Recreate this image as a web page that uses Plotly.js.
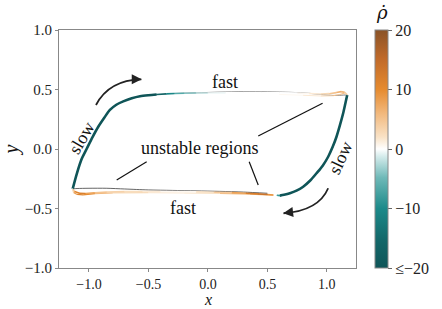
<!DOCTYPE html>
<html>
<head>
<meta charset="utf-8">
<script src="https://cdn.plot.ly/plotly-3.0.1.min.js"></script>
<style>html,body{margin:0;padding:0;background:#fff}</style>
</head>
<body>
<div id="chart" style="width:442px;height:309px"></div>
<script>
// ---- limit cycle in the (x, y) plane, coloured by d(rho)/dt ----

// slow branch on the left (rising)
const slowLeftX = [-1.137, -1.10, -1.06, -1.02, -0.97, -0.922, -0.87, -0.824, -0.77, -0.712, -0.64, -0.571, -0.50, -0.431];
const slowLeftY = [-0.335, -0.20, -0.08, 0.00, 0.10, 0.187, 0.265, 0.328, 0.372, 0.400, 0.426, 0.443, 0.452, 0.458];
const slowLeftRho = [-40, -40, -40, -40, -40, -40, -40, -40, -40, -40, -40, -40, -40, -40];

// slow branch on the right (falling)
const slowRightX = [1.171, 1.155, 1.137, 1.11, 1.081, 1.05, 1.011, 0.965, 0.913, 0.86, 0.801, 0.745, 0.689, 0.64, 0.605];
const slowRightY = [0.454, 0.38, 0.30, 0.20, 0.103, 0.02, -0.065, -0.14, -0.204, -0.265, -0.317, -0.35, -0.372, -0.385, -0.392];
const slowRightRho = [-40, -40, -40, -40, -40, -40, -40, -40, -40, -40, -40, -40, -40, -40, -40];

// upper fast jump: three passes
const top1X = [-0.431, -0.35, -0.28, -0.2, -0.1, 0.0, 0.15, 0.3, 0.45, 0.6, 0.75, 0.85, 0.95, 1.02, 1.08, 1.12, 1.15, 1.171];
const top1Y = [0.458, 0.463, 0.466, 0.468, 0.470, 0.471, 0.472, 0.473, 0.473, 0.472, 0.470, 0.466, 0.462, 0.465, 0.474, 0.482, 0.476, 0.456];
const top1Rho = [-20, -13, -8, -5, -3, -1, 0, 0, 0, 0, 0, 1, 2, 4, 6, 7, 5, 2];

const top2X = [-0.3, -0.1, 0.1, 0.3, 0.5, 0.7, 0.85, 0.95, 1.05, 1.12, 1.171];
const top2Y = [0.466, 0.472, 0.478, 0.481, 0.480, 0.476, 0.468, 0.458, 0.450, 0.452, 0.455];

const top3X = [0.2, 0.4, 0.6, 0.8, 0.95, 1.05, 1.11, 1.15, 1.171];
const top3Y = [0.466, 0.462, 0.458, 0.452, 0.446, 0.447, 0.458, 0.470, 0.455];
const top3Rho = [0, 0, 0, 1, 2, 4, 6, 5, 2];

// lower fast jump: three passes
const bot1X = [0.605, 0.58, 0.55, 0.5, 0.42, 0.32, 0.2, 0.05, -0.1, -0.25, -0.4, -0.55, -0.7, -0.85, -0.95, -1.03, -1.08, -1.12, -1.137];
const bot1Y = [-0.392, -0.389, -0.386, -0.382, -0.377, -0.372, -0.367, -0.363, -0.360, -0.358, -0.357, -0.357, -0.358, -0.362, -0.368, -0.374, -0.372, -0.358, -0.335];
const bot1Rho = [-12, -5, 5, 13, 14, 10, 6, 3, 1, 0, 1, 2, 3, 4, 6, 10, 13, 9, 0];

const bot2X = [0.5, 0.3, 0.1, -0.1, -0.3, -0.5, -0.7, -0.85, -1.0, -1.1, -1.137];
const bot2Y = [-0.372, -0.362, -0.356, -0.352, -0.348, -0.344, -0.336, -0.330, -0.330, -0.332, -0.335];

const bot3X = [0.55, 0.35, 0.1, -0.2, -0.5, -0.8, -0.95, -1.05, -1.1, -1.13, -1.137];
const bot3Y = [-0.388, -0.380, -0.372, -0.368, -0.366, -0.368, -0.375, -0.385, -0.382, -0.365, -0.338];
const bot3Rho = [6, 8, 3, 1, 2, 4, 8, 12, 10, 6, 0];

// colour bar ticks
const cbTickVals = [-20, -10, 0, 10, 20];
const cbTickText = ['\u2264\u221220', '\u221210', '0', '10', '20'];

const RHO_MIN = -20, RHO_MAX = 20;
const colorscale = [
  [0.00, '#0f5558'],
  [0.12, '#13686a'],
  [0.25, '#1c8a8a'],
  [0.38, '#6fb9b8'],
  [0.47, '#d6ecec'],
  [0.50, '#ffffff'],
  [0.55, '#f9e2c6'],
  [0.65, '#f2b87c'],
  [0.75, '#e68b2f'],
  [0.88, '#c06a2a'],
  [1.00, '#8a5328']
];

function hexToRgb(h) {
  const n = parseInt(h.slice(1), 16);
  return [(n >> 16) & 255, (n >> 8) & 255, n & 255];
}
function rhoColor(v) {
  const t = (Math.min(Math.max(v, RHO_MIN), RHO_MAX) - RHO_MIN) / (RHO_MAX - RHO_MIN);
  for (let i = 1; i < colorscale.length; i++) {
    if (t <= colorscale[i][0]) {
      const [t0, c0] = colorscale[i - 1], [t1, c1] = colorscale[i];
      const f = (t - t0) / (t1 - t0);
      const a = hexToRgb(c0), b = hexToRgb(c1);
      const c = a.map((x, k) => Math.round(x + (b[k] - x) * f));
      return `rgb(${c[0]},${c[1]},${c[2]})`;
    }
  }
  return colorscale[colorscale.length - 1][1];
}

const traces = [];

// a coloured polyline: one short segment per pair of points
function coloredPath(xs, ys, rho, width) {
  for (let i = 0; i < xs.length - 1; i++) {
    traces.push({
      type: 'scatter', mode: 'lines', hoverinfo: 'skip', showlegend: false,
      x: [xs[i], xs[i + 1]], y: [ys[i], ys[i + 1]],
      line: {color: rhoColor((rho[i] + rho[i + 1]) / 2), width: width}
    });
  }
}
function plainPath(xs, ys, color, width) {
  traces.push({
    type: 'scatter', mode: 'lines', hoverinfo: 'skip', showlegend: false,
    x: xs, y: ys, line: {color: color, width: width, shape: 'spline', smoothing: 0.8}
  });
}
// slow manifolds keep a single (saturated) colour, so draw them smooth
function slowPath(xs, ys, rho, width) {
  const mean = rho.reduce((s, v) => s + v, 0) / rho.length;
  plainPath(xs, ys, rhoColor(mean), width);
}

// fast jumps
plainPath(top2X, top2Y, 'rgba(60,60,60,0.8)', 0.8);
plainPath(bot2X, bot2Y, 'rgba(40,40,40,0.9)', 0.8);
coloredPath(top3X, top3Y, top3Rho, 1.1);
coloredPath(bot3X, bot3Y, bot3Rho, 1.3);
coloredPath(top1X, top1Y, top1Rho, 1.6);
coloredPath(bot1X, bot1Y, bot1Rho, 1.6);

// slow manifolds
slowPath(slowLeftX, slowLeftY, slowLeftRho, 2.6);
slowPath(slowRightX, slowRightY, slowRightRho, 2.6);

const serif = 'Liberation Serif, serif';

// vertices of the fast passes carry the colour bar
traces.push({
  type: 'scatter', mode: 'markers', hoverinfo: 'skip', showlegend: false,
  x: top1X.concat(bot1X), y: top1Y.concat(bot1Y),
  marker: {
    size: 1, color: top1Rho.concat(bot1Rho), colorscale: colorscale,
    cmin: RHO_MIN, cmax: RHO_MAX, showscale: true,
    colorbar: {
      x: 375 / 442, xref: 'container', xanchor: 'left', xpad: 0,
      y: 0.5, yanchor: 'middle', ypad: 0, len: 1, lenmode: 'fraction',
      thickness: 13, thicknessmode: 'pixels',
      outlinewidth: 1, outlinecolor: '#888',
      tickmode: 'array', tickvals: cbTickVals, ticktext: cbTickText,
      ticks: 'outside', ticklen: 4, tickcolor: '#666',
      tickfont: {family: serif, size: 16, color: '#222'}
    }
  }
});

const axisCommon = {
  showgrid: false, zeroline: false, showline: true, mirror: true,
  linecolor: '#888', linewidth: 1, ticks: 'outside', ticklen: 3, tickcolor: '#888',
  tickfont: {family: serif, size: 15, color: '#222'}
};

const txt = (x, y, text, angle) => ({
  x: x, y: y, xref: 'x', yref: 'y', text: text, showarrow: false,
  textangle: angle || 0, font: {family: serif, size: 18, color: '#111'}
});
const head = (x, y, ax, ay) => ({
  x: x, y: y, xref: 'x', yref: 'y', ax: ax, ay: ay, text: '',
  showarrow: true, arrowhead: 2, arrowsize: 1.1, arrowwidth: 1.8, arrowcolor: '#222'
});

// colour bar label: rho with an overdot (combining mark)
const rhoLabel = {
  x: (381.5 - 59) / 297, y: (268 - 12) / 238, xref: 'paper', yref: 'paper', showarrow: false,
  xanchor: 'center', yanchor: 'middle',
  text: '<i>\u03C1\u0307</i>', font: {family: 'DejaVu Serif, serif', size: 18, color: '#111'}
};

// x-axis label, below the tick labels
const xLabel = {
  x: 0.5, y: (268 - 299.5) / 238, xref: 'paper', yref: 'paper', showarrow: false,
  xanchor: 'center', yanchor: 'middle',
  text: '<i>x</i>', font: {family: serif, size: 16, color: '#111'}
};

const layout = {
  width: 442, height: 309,
  margin: {l: 59, r: 86, t: 30, b: 41},
  paper_bgcolor: '#fff', plot_bgcolor: '#fff',
  xaxis: Object.assign({}, axisCommon, {
    range: [-1.252, 1.245], tickvals: [-1, -0.5, 0, 0.5, 1],
    ticktext: ['\u22121.0', '\u22120.5', '0.0', '0.5', '1.0'],
    tickfont: {family: serif, size: 14, color: '#222'}
  }),
  yaxis: Object.assign({}, axisCommon, {
    range: [-1, 1], tickvals: [-1, -0.5, 0, 0.5, 1],
    ticktext: ['\u22121.0', '\u22120.5', '0.0', '0.5', '1.0'],
    title: {text: '<i>y</i>', font: {family: serif, size: 20, color: '#111'}, standoff: 8}
  }),
  shapes: [
    // curved direction arrows
    {type: 'path', xref: 'x', yref: 'y', path: 'M -0.941,0.37 Q -0.83,0.58 -0.56,0.585',
     line: {color: '#222', width: 1.8}},
    {type: 'path', xref: 'x', yref: 'y', path: 'M 1.011,-0.33 Q 0.93,-0.52 0.636,-0.54',
     line: {color: '#222', width: 1.8}},
    // pointers to the unstable regions
    {type: 'line', xref: 'x', yref: 'y', x0: -0.767, y0: -0.261, x1: -0.515, y1: -0.107,
     line: {color: '#111', width: 1.2}},
    {type: 'line', xref: 'x', yref: 'y', x0: 0.423, y0: 0.109, x1: 0.964, y1: 0.384,
     line: {color: '#111', width: 1.2}},
    {type: 'line', xref: 'x', yref: 'y', x0: 0.347, y0: -0.107, x1: 0.423, y1: -0.303,
     line: {color: '#111', width: 1.2}}
  ],
  annotations: [
    txt(0.143, 0.566, 'fast'),
    txt(-0.213, -0.498, 'fast'),
    txt(-0.067, 0.011, 'unstable regions'),
    txt(-1.061, 0.09, 'slow', -60),
    txt(1.115, -0.078, 'slow', -65),
    head(-0.557, 0.586, -8, 0),
    head(0.633, -0.54, 8, -1),
    rhoLabel,
    xLabel
  ]
};

Plotly.newPlot('chart', traces, layout, {staticPlot: true, displayModeBar: false});
</script>
</body>
</html>
